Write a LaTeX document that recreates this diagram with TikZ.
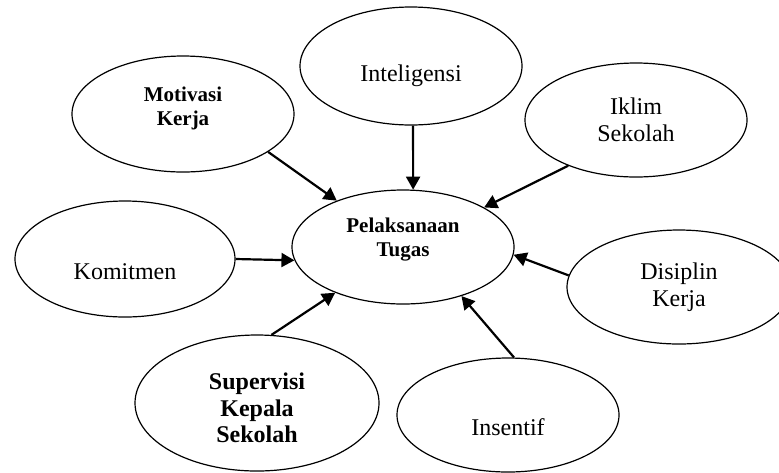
\documentclass[tikz,border=0pt]{standalone}
\usepackage{fontspec}
\setmainfont{Liberation Serif}
\usetikzlibrary{arrows.meta,shapes.geometric}

\begin{document}
\begin{tikzpicture}[x=0.5pt, y=-0.5pt,
    oval/.style={ellipse, draw, line width=0.6pt, inner sep=0pt},
    txt/.style={align=center, font=\fontsize{12}{13.5}\selectfont},
    txtb/.style={align=center, font=\fontsize{10.5}{12}\selectfont\bfseries},
    txtbb/.style={align=center, font=\fontsize{12}{13.3}\selectfont\bfseries},
    arr/.style={-{Triangle[length=6.5pt,width=7pt]}, line width=1.1pt}]
  % Fix the page size
  \useasboundingbox (0,0) rectangle (779,472);

  % Draw the centre ellipse
  \node[oval, minimum width=111pt, minimum height=57pt,
    label={[txtb, yshift=3.5pt]center:Pelaksanaan\\Tugas}] (tugas) at (403,247) {};

  % Draw the outer ellipses
  \node[oval, minimum width=111pt, minimum height=58pt,
    label={[txtb, yshift=3pt]center:Motivasi\\Kerja}] (motivasi) at (183,114) {};
  \node[oval, minimum width=111pt, minimum height=59pt,
    label={[txt, yshift=-5pt]center:Inteligensi}] (inteligensi) at (411,66) {};
  \node[oval, minimum width=111pt, minimum height=57pt,
    label={[txt]center:Iklim\\Sekolah}] (iklim) at (636,120) {};
  \node[oval, minimum width=110pt, minimum height=58pt,
    label={[txt, yshift=-6.5pt]center:Komitmen}] (komitmen) at (125,259) {};
  \node[oval, minimum width=112pt, minimum height=57pt,
    label={[txt]center:Disiplin\\Kerja}] (disiplin) at (679,287) {};
  \node[oval, minimum width=122pt, minimum height=68pt,
    label={[txtbb, yshift=-2.5pt]center:Supervisi\\Kepala\\Sekolah}] (supervisi) at (257,403) {};
  \node[oval, minimum width=111pt, minimum height=57pt,
    label={[txt, yshift=-6pt]center:Insentif}] (insentif) at (508,415) {};

  % Draw the arrows into the centre
  \draw[arr] (motivasi.-24) -- (tugas.145);
  \draw[arr] (inteligensi.-88) -- (tugas.80);
  \draw[arr] (iklim.-146.5) -- (tugas.26);
  \draw[arr] (komitmen.0) -- (tugas.-173);
  \draw[arr] (disiplin.174.7) -- (tugas.-4.4);
  \draw[arr] (supervisi.78) -- (tugas.-146);
  \draw[arr] (insentif.84.6) -- (tugas.-40);
\end{tikzpicture}
\end{document}
